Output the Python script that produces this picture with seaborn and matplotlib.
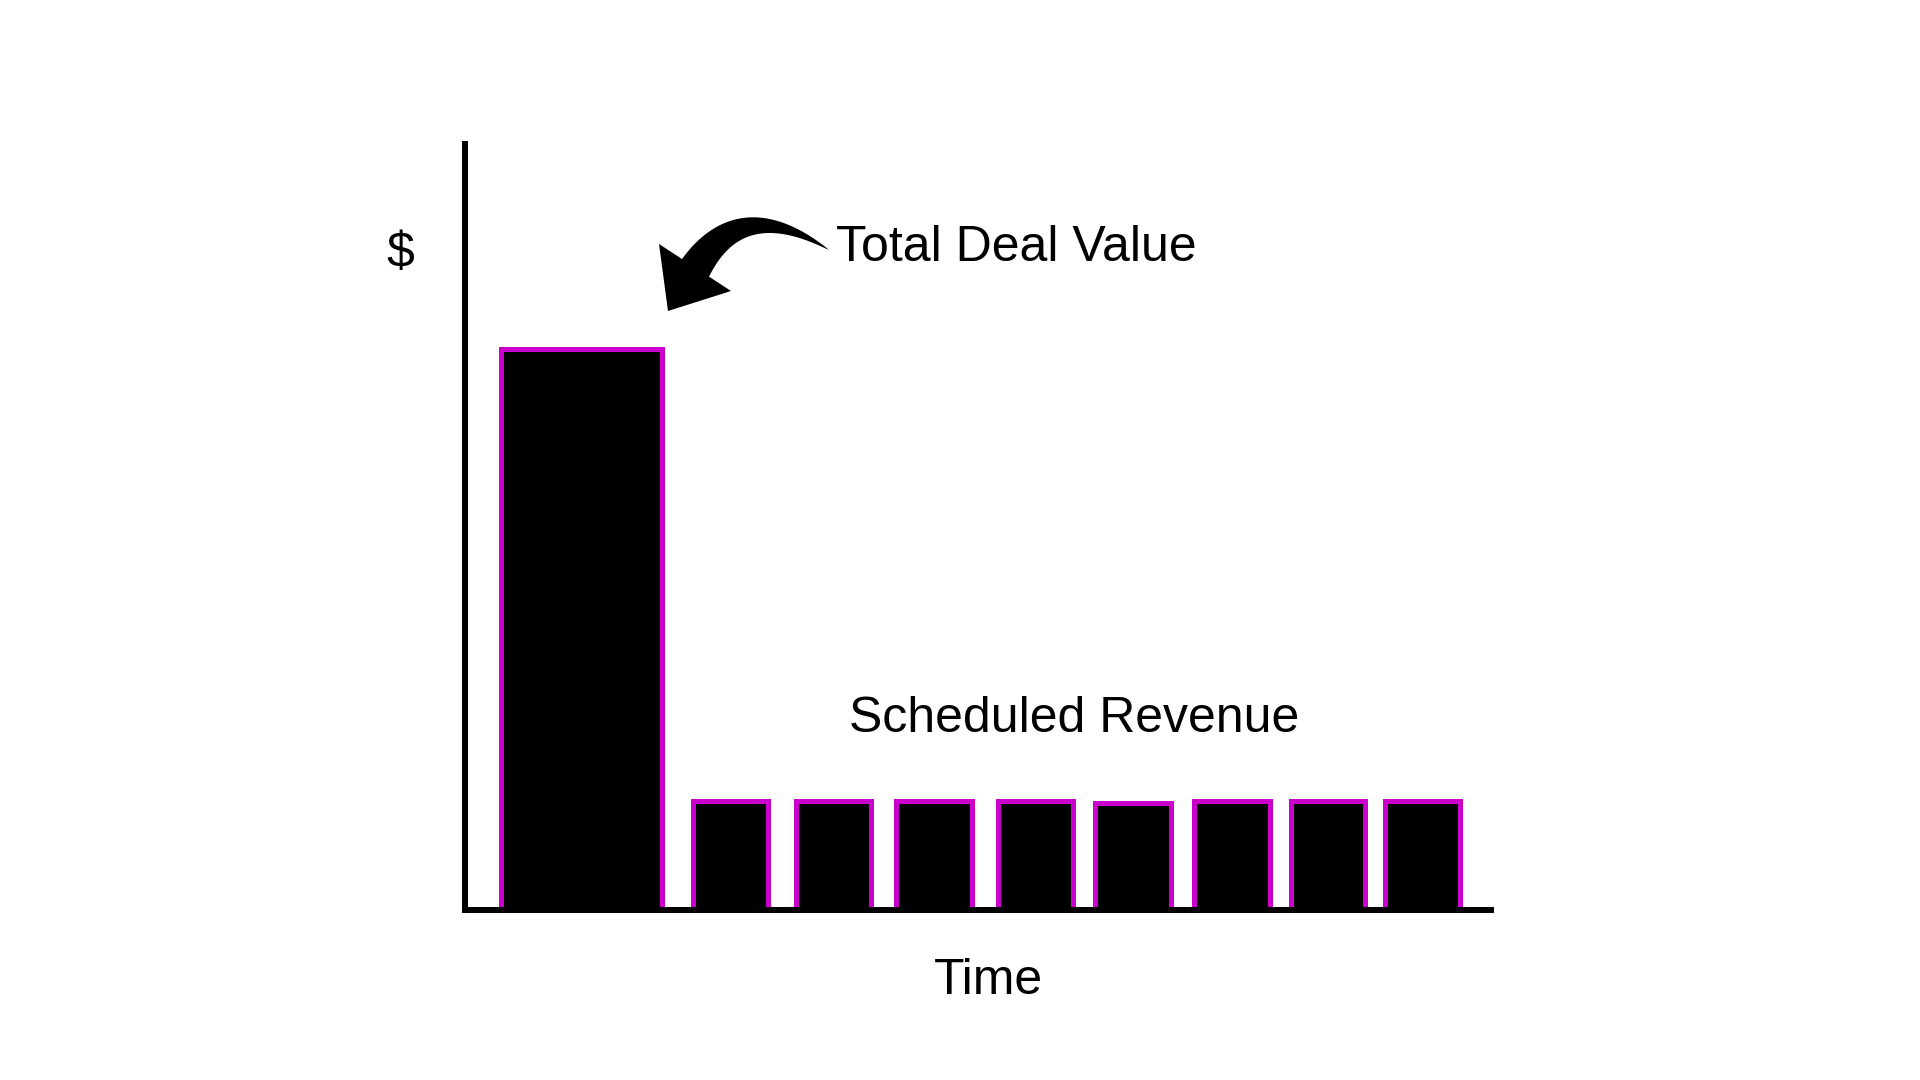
import numpy as np
import pandas as pd
import matplotlib
matplotlib.use("Agg")
import matplotlib.pyplot as plt
import seaborn as sns

# bar data: first bar is the total deal value, the rest are scheduled revenue
periods = [1.165, 2.655, 3.685, 4.69, 5.705, 6.68, 7.67, 8.63, 9.575]
values = [5.61, 1.09, 1.09, 1.09, 1.09, 1.07, 1.09, 1.09, 1.09]
widths = [1.61, 0.75, 0.75, 0.76, 0.75, 0.76, 0.76, 0.74, 0.75]

df = pd.DataFrame({"period": periods, "value": values})

sns.set_style("white")
plt.rcParams["font.family"] = ["Liberation Sans", "DejaVu Sans"]
plt.rcParams["text.color"] = "black"

fig = plt.figure(figsize=(19.2, 10.8), dpi=100)
ax = fig.add_axes([465 / 1920, 170 / 1080, 1026 / 1920, 766 / 1080])

sns.barplot(data=df, x="period", y="value", native_scale=True, color="black",
            saturation=1, errorbar=None, edgecolor="#CC00CC", linewidth=3.6, ax=ax)

# widen / narrow each bar to match the picture
for patch, w in zip(ax.patches, widths):
    c = patch.get_x() + patch.get_width() / 2
    patch.set_width(w)
    patch.set_x(c - w / 2)

ax.set_xlim(0, 10.26)
ax.set_ylim(0, 7.66)
ax.set_xticks([])
ax.set_yticks([])
ax.set_xlabel("")
ax.set_ylabel("")
for s in ["top", "right"]:
    ax.spines[s].set_visible(False)
for s in ["left", "bottom"]:
    ax.spines[s].set_color("black")
    ax.spines[s].set_linewidth(4.3)
    ax.spines[s].set_zorder(5)

ax.text(3.71, 6.62, "Total Deal Value", fontsize=36, ha="left", va="center", color="black")
ax.text(3.84, 1.91, "Scheduled Revenue", fontsize=36, ha="left", va="center", color="black")
ax.text(-0.063, 0.8565, "$", fontsize=36, ha="center", va="center", color="black",
        transform=ax.transAxes)
ax.text(0.51, -0.0925, "Time", fontsize=36, ha="center", va="center", color="black",
        transform=ax.transAxes)

# curved arrow: tapering body (thin at the text, thick near the head) + triangular head
p0 = np.array([3.64, 6.60])
ctrl = np.array([2.74, 7.18])
p1 = np.array([2.28, 6.38])
t = np.linspace(0, 1, 80)[:, None]
curve = (1 - t) ** 2 * p0 + 2 * (1 - t) * t * ctrl + t ** 2 * p1
tang = 2 * (1 - t) * (ctrl - p0) + 2 * t * (p1 - ctrl)
tang = tang / np.linalg.norm(tang, axis=1, keepdims=True)
normal = np.column_stack([-tang[:, 1], tang[:, 0]])
half = 0.165 * t ** 0.85
body = np.vstack([curve + normal * half, (curve - normal * half)[::-1]])
ax.fill(body[:, 0], body[:, 1], color="black", lw=0, zorder=6)
head = np.array([[1.94, 6.66], [2.66, 6.19], [2.03, 5.99]])
ax.fill(head[:, 0], head[:, 1], color="black", lw=0, zorder=6)

fig.savefig("out.png", dpi=100, facecolor="white")
